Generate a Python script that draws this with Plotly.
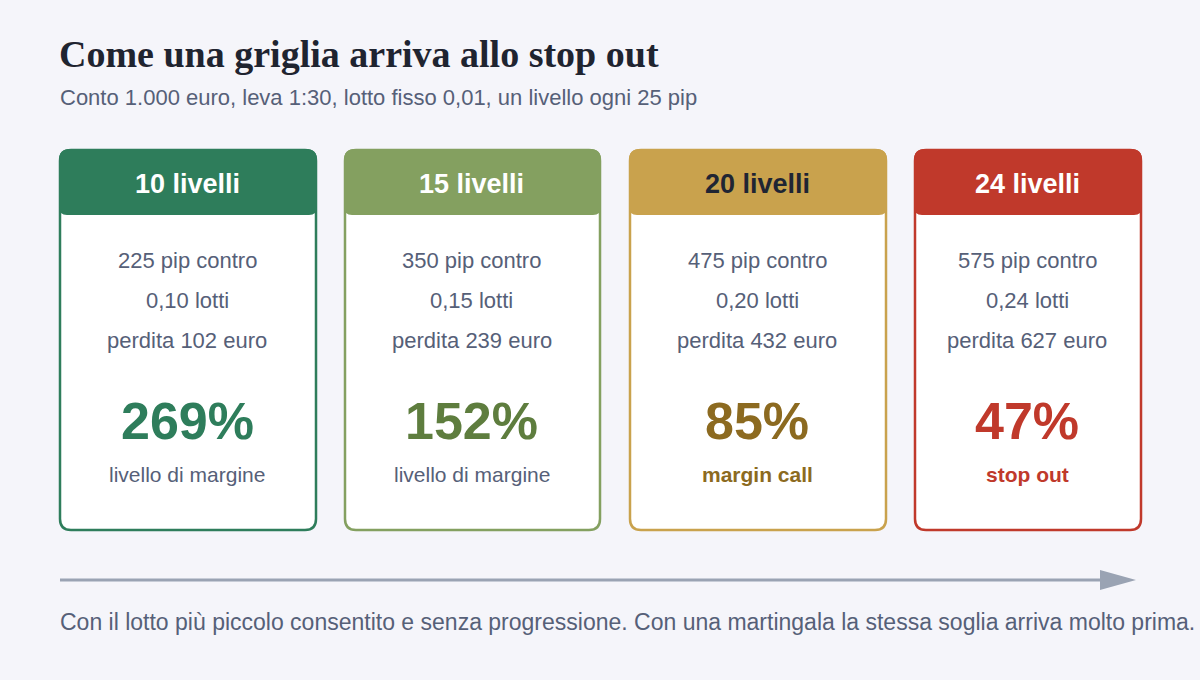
import plotly.graph_objects as go

# ---- data ----
levels = ["10 livelli", "15 livelli", "20 livelli", "24 livelli"]
pips = [225, 350, 475, 575]
lots = ["0,10", "0,15", "0,20", "0,24"]
losses = [102, 239, 432, 627]
margin_pct = [269, 152, 85, 47]
status = ["livello di margine", "livello di margine", "margin call", "stop out"]
status_bold = [False, False, True, True]

title = "Come una griglia arriva allo stop out"
subtitle = "Conto 1.000 euro, leva 1:30, lotto fisso 0,01, un livello ogni 25 pip"
footnote = ("Con il lotto più piccolo consentito e senza progressione. "
            "Con una martingala la stessa soglia arriva molto prima.")

# ---- styles ----
W, H = 1200, 680
BG = "#f5f5fa"
card_colors = ["#2e7d5b", "#84a060", "#c9a24d", "#c0392b"]
pct_colors = ["#2e7d5b", "#5e7d3e", "#8c6a20", "#c0392b"]
head_text_colors = ["#ffffff", "#ffffff", "#1f2533", "#ffffff"]
card_x = [(60, 316), (345, 600), (630, 886), (915, 1141)]
card_top, card_bot, head_bot = 150, 530, 215
TXT = "#566078"
SANS = "Liberation Sans, Arial, sans-serif"


def rrect(x0, y0, x1, y1, r_top, r_bot):
    return (f"M {x0+r_top},{y0} L {x1-r_top},{y0} Q {x1},{y0} {x1},{y0+r_top} "
            f"L {x1},{y1-r_bot} Q {x1},{y1} {x1-r_bot},{y1} "
            f"L {x0+r_bot},{y1} Q {x0},{y1} {x0},{y1-r_bot} "
            f"L {x0},{y0+r_top} Q {x0},{y0} {x0+r_top},{y0} Z")


fig = go.Figure()
shapes, ann = [], []

for i in range(len(levels)):
    x0, x1 = card_x[i]
    cx = (x0 + x1) / 2 - 1
    c = card_colors[i]
    shapes.append(dict(type="path", path=rrect(x0, card_top, x1, card_bot, 11, 11),
                       fillcolor="#ffffff", line=dict(color=c, width=2.5),
                       xref="x", yref="y", layer="above"))
    shapes.append(dict(type="path", path=rrect(x0 - 1, card_top - 1, x1 + 1, head_bot, 11, 8),
                       fillcolor=c, line=dict(width=0),
                       xref="x", yref="y", layer="above"))
    ann.append(dict(x=cx, y=184, text=f"<b>{levels[i]}</b>",
                    font=dict(family=SANS, size=27, color=head_text_colors[i])))
    ann.append(dict(x=cx, y=260, text=f"{pips[i]} pip contro",
                    font=dict(family=SANS, size=22, color=TXT)))
    ann.append(dict(x=cx, y=300, text=f"{lots[i]} lotti",
                    font=dict(family=SANS, size=22, color=TXT)))
    ann.append(dict(x=cx, y=340, text=f"perdita {losses[i]} euro",
                    font=dict(family=SANS, size=22, color=TXT)))
    ann.append(dict(x=cx, y=421, text=f"<b>{margin_pct[i]}%</b>",
                    font=dict(family=SANS, size=52, color=pct_colors[i])))
    if status_bold[i]:
        ann.append(dict(x=cx, y=474, text=f"<b>{status[i]}</b>",
                        font=dict(family=SANS, size=21, color=pct_colors[i])))
    else:
        ann.append(dict(x=cx, y=474, text=status[i],
                        font=dict(family=SANS, size=21, color=TXT)))

# arrow
shapes.append(dict(type="line", x0=60, x1=1104, y0=580, y1=580,
                   line=dict(color="#9aa3b3", width=3), xref="x", yref="y"))
shapes.append(dict(type="path", path="M 1100,570 L 1136,580 L 1100,590 Z",
                   fillcolor="#9aa3b3", line=dict(width=0), xref="x", yref="y"))

for a in ann:
    a.update(xref="x", yref="y", showarrow=False, xanchor="center", yanchor="middle")

ann.append(dict(x=57, y=54, xref="x", yref="y", showarrow=False, xanchor="left",
                yanchor="middle", text=f"<b>{title}</b>",
                font=dict(family="Liberation Serif, Times New Roman, serif", size=38,
                          color="#1f2430")))
ann.append(dict(x=58, y=97, xref="x", yref="y", showarrow=False, xanchor="left",
                yanchor="middle", text=subtitle,
                font=dict(family=SANS, size=22, color=TXT)))
ann.append(dict(x=58, y=622, xref="x", yref="y", showarrow=False, xanchor="left",
                yanchor="middle", text=footnote,
                font=dict(family=SANS, size=23, color=TXT)))

fig.update_layout(
    width=W, height=H, paper_bgcolor=BG, plot_bgcolor=BG,
    margin=dict(l=0, r=0, t=0, b=0), showlegend=False,
    xaxis=dict(range=[0, W], visible=False, fixedrange=True),
    yaxis=dict(range=[H, 0], visible=False, fixedrange=True),
    shapes=shapes, annotations=ann,
)
fig.write_html("out.html", config={"displayModeBar": False},
               post_script="document.body.style.margin='0';document.body.style.overflow='hidden';")
